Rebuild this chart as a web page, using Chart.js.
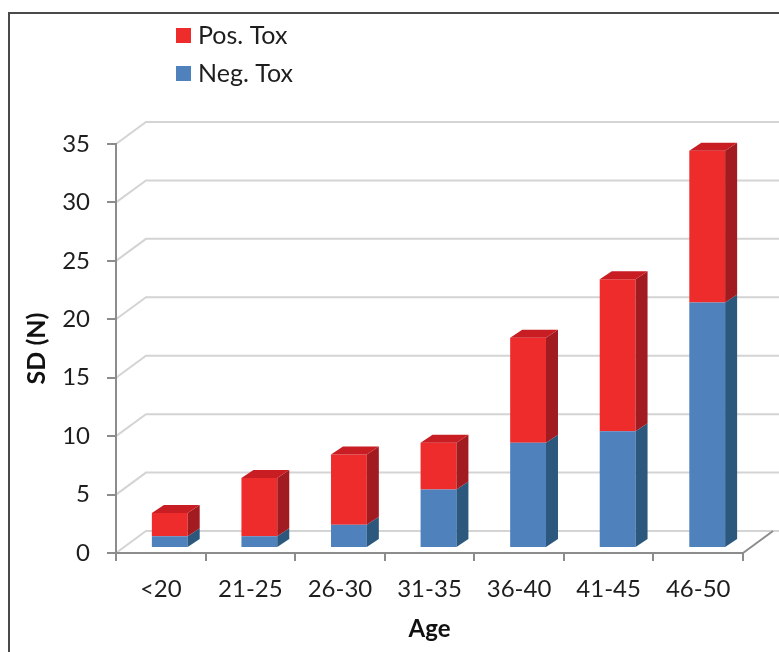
<!DOCTYPE html>
<html>
<head>
<meta charset="utf-8">
<script src="https://cdn.jsdelivr.net/npm/chart.js@4/dist/chart.umd.min.js"></script>
<style>
  html, body { margin: 0; padding: 0; background: #ffffff; }
  #wrap { width: 779px; height: 652px; }
</style>
</head>
<body>
<div id="wrap"><canvas id="chart" width="779" height="652"></canvas></div>
<script>
// Age groups and counts per group
const ageGroups = ['<20', '21-25', '26-30', '31-35', '36-40', '41-45', '46-50'];
const negTox = [1, 1, 2, 5, 9, 10, 21];
const posTox = [2, 5, 6, 4, 9, 13, 13];
const yTicks = [0, 5, 10, 15, 20, 25, 30, 35];

// Face colours for the pseudo-3D columns
const faces = {
  neg: { front: '#4F81BD', side: '#2C587E', top: '#3C6A9E' },
  pos: { front: '#EE2C2C', side: '#A21B20', top: '#C81D23' }
};

const WALL_DX = 30, WALL_DY = -22;   // back wall offset
const BAR_DX = 9, BAR_DY = -5;       // column placement inside the floor
const DEPTH_DX = 12, DEPTH_DY = -8;  // column depth

const AXIS_COLOR = '#8C8C8C';
const GRID_COLOR = '#D4D4D4';

const scene3d = {
  id: 'scene3d',
  beforeDraw(chart) {
    const { ctx, chartArea, scales } = chart;
    const y = scales.y;
    ctx.save();
    // outer frame
    ctx.strokeStyle = '#4A4A4A';
    ctx.lineWidth = 2;
    ctx.strokeRect(9, 13, 900, 800);
    // side wall + back wall lines
    ctx.strokeStyle = GRID_COLOR;
    ctx.lineWidth = 2;
    yTicks.forEach(v => {
      const py = y.getPixelForValue(v);
      ctx.beginPath();
      ctx.moveTo(chartArea.left, py);
      ctx.lineTo(chartArea.left + WALL_DX, py + WALL_DY);
      ctx.lineTo(chart.width, py + WALL_DY);
      ctx.stroke();
    });
    // floor right edge
    const p0 = y.getPixelForValue(0);
    ctx.strokeStyle = AXIS_COLOR;
    ctx.beginPath();
    ctx.moveTo(chartArea.right, p0);
    ctx.lineTo(chartArea.right + WALL_DX, p0 + WALL_DY);
    ctx.stroke();
    ctx.restore();
  },
  beforeDatasetsDraw(chart) {
    chart.ctx.save();
    chart.ctx.translate(BAR_DX, BAR_DY);
  },
  afterDatasetsDraw(chart) {
    const { ctx } = chart;
    const n = chart.data.datasets.length;
    chart.data.datasets.forEach((ds, di) => {
      const meta = chart.getDatasetMeta(di);
      const f = ds.faces;
      meta.data.forEach(bar => {
        const { x, y, base, width } = bar.getProps(['x', 'y', 'base', 'width'], true);
        const l = x - width / 2, r = x + width / 2;
        // side face
        ctx.fillStyle = f.side;
        ctx.beginPath();
        ctx.moveTo(r, y);
        ctx.lineTo(r + DEPTH_DX, y + DEPTH_DY);
        ctx.lineTo(r + DEPTH_DX, base + DEPTH_DY);
        ctx.lineTo(r, base);
        ctx.closePath();
        ctx.fill();
        // top face on the uppermost segment
        if (di === n - 1) {
          ctx.fillStyle = f.top;
          ctx.beginPath();
          ctx.moveTo(l, y);
          ctx.lineTo(l + DEPTH_DX, y + DEPTH_DY);
          ctx.lineTo(r + DEPTH_DX, y + DEPTH_DY);
          ctx.lineTo(r, y);
          ctx.closePath();
          ctx.fill();
        }
      });
    });
    ctx.restore();
  },
  afterDraw(chart) {
    // vertical legend, upper series first
    const { ctx } = chart;
    const items = chart.data.datasets.slice().reverse();
    ctx.save();
    ctx.font = '25px Lato';
    ctx.textBaseline = 'middle';
    ctx.textAlign = 'left';
    items.forEach((ds, i) => {
      const top = 28 + i * 38;
      ctx.fillStyle = ds.backgroundColor;
      ctx.fillRect(176, top, 15, 15);
      ctx.fillStyle = '#1E1E1E';
      ctx.fillText(ds.label, 198, top + 8);
    });
    ctx.restore();
  }
};

Chart.defaults.font.family = 'Lato';

new Chart(document.getElementById('chart'), {
  type: 'bar',
  data: {
    labels: ageGroups,
    datasets: [
      { label: 'Neg. Tox', data: negTox, backgroundColor: faces.neg.front, faces: faces.neg, borderWidth: 0 },
      { label: 'Pos. Tox', data: posTox, backgroundColor: faces.pos.front, faces: faces.pos, borderWidth: 0 }
    ]
  },
  options: {
    responsive: false,
    animation: false,
    events: [],
    barPercentage: 0.4,
    categoryPercentage: 1,
    layout: { padding: { top: 144, right: 36, left: 0, bottom: 0 } },
    plugins: { legend: { display: false }, tooltip: { enabled: false } },
    scales: {
      x: {
        stacked: true,
        afterFit(s) { s.height = 99; },
        grid: { drawOnChartArea: false, color: AXIS_COLOR, lineWidth: 2, tickLength: 8, offset: true },
        border: { color: AXIS_COLOR, width: 2 },
        ticks: { color: '#1E1E1E', font: { size: 24 }, padding: 14, maxRotation: 0 },
        title: { display: true, text: 'Age', color: '#111111', font: { size: 24, weight: 'bold' }, padding: { top: 0, bottom: 8 } }
      },
      y: {
        stacked: true,
        min: 0,
        max: 35,
        afterFit(s) { s.width = 116; },
        grid: { drawOnChartArea: false, color: AXIS_COLOR, lineWidth: 2, tickLength: 9 },
        border: { color: AXIS_COLOR, width: 2 },
        ticks: { stepSize: 5, color: '#1E1E1E', font: { size: 24 }, padding: 17 },
        title: { display: true, text: 'SD (N)', color: '#111111', font: { size: 25, weight: 'bold' }, padding: { top: 22, bottom: 0 } }
      }
    }
  },
  plugins: [scene3d]
});
</script>
</body>
</html>
